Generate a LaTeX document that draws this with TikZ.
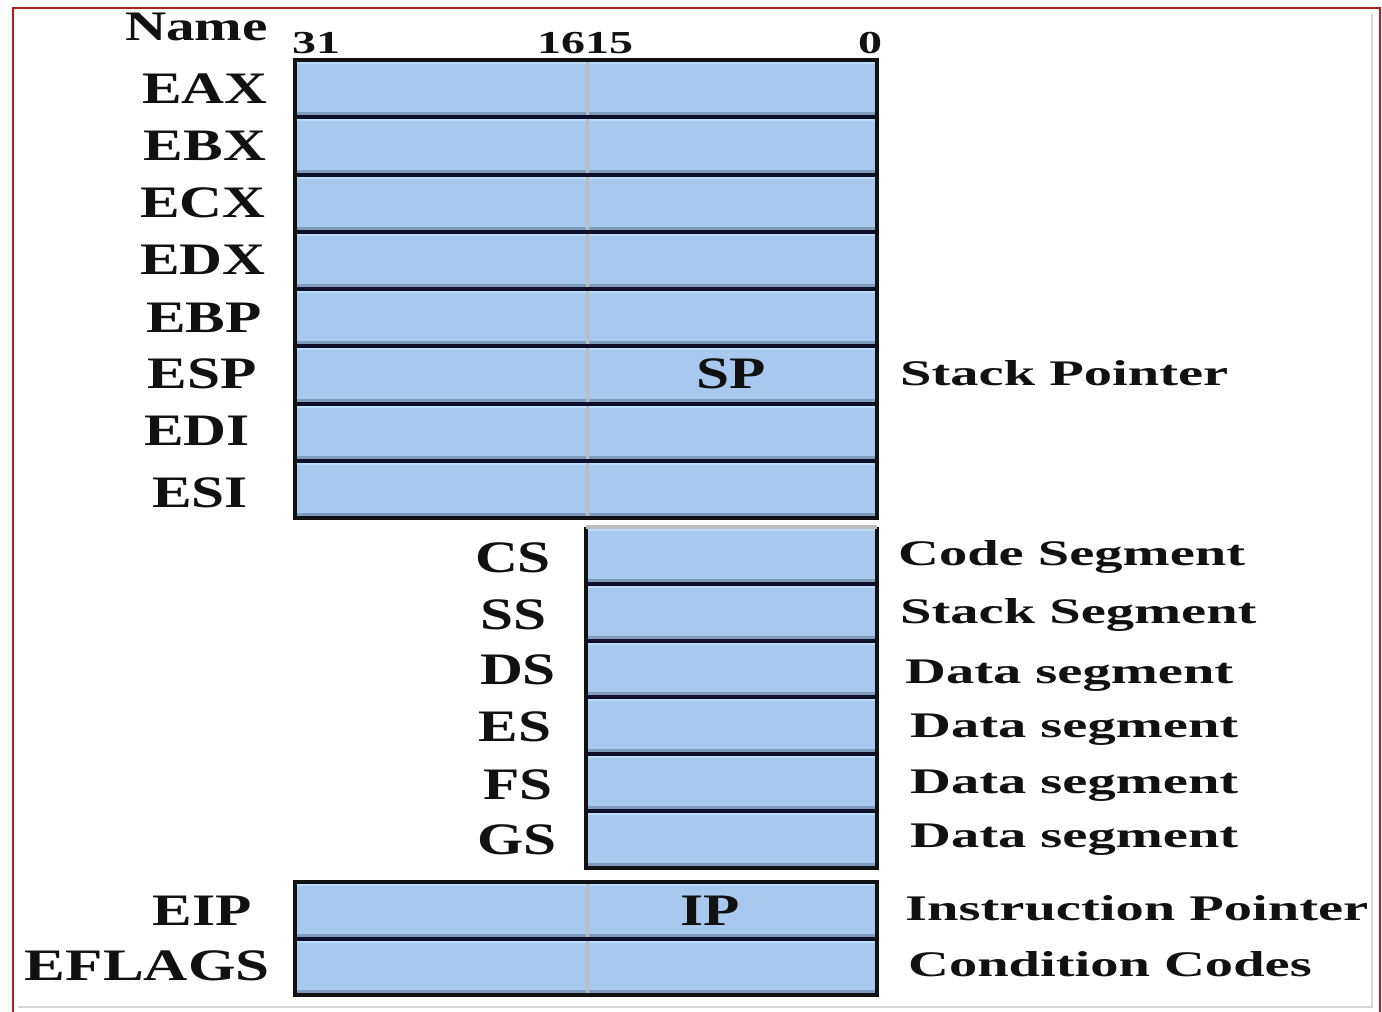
\documentclass[tikz,border=0pt]{standalone}
\usepackage{fontspec}
\setmainfont{Liberation Serif}
\usepackage{graphicx}
\definecolor{regblue}{HTML}{A7C9EF}
\definecolor{toplight}{HTML}{BBDBFB}
\definecolor{botdark}{HTML}{7F9CBD}
\definecolor{framered}{HTML}{B0201C}
\definecolor{framegray}{HTML}{D6D6D6}
\definecolor{divgray}{HTML}{BDBDBD}
\definecolor{ink}{HTML}{111111}
\newcommand\xstretch[2]{\scalebox{#1}[1]{#2}}
\begin{document}
\begin{tikzpicture}[x=1pt,y=-1pt,
  regrow/.style={rectangle, fill=regblue, inner sep=0pt, outer sep=0pt,
    path picture={
      \fill[toplight] (path picture bounding box.north west) rectangle ([yshift=-4pt]path picture bounding box.north east);
      \fill[botdark] ([yshift=5pt]path picture bounding box.south west) rectangle (path picture bounding box.south east);
    }},
  mainrow/.style={regrow, minimum width=582pt, minimum height=57.25pt},
  segrow/.style={regrow, minimum width=291pt, minimum height=56.83pt},
  iprow/.style={regrow, minimum width=582pt, minimum height=56.5pt},
  sep/.style={line width=4pt, draw=ink!90!blue},
  outline/.style={line width=4.5pt, draw=ink},
  div/.style={line width=3pt, draw=divgray},
  reglbl/.style={text=ink, inner sep=0pt, font=\fontsize{45}{45}\selectfont\bfseries},
  desclbl/.style={text=ink, inner sep=0pt, anchor=base west, font=\fontsize{36}{36}\selectfont\bfseries},
  numlbl/.style={text=ink, inner sep=0pt, font=\fontsize{32}{32}\selectfont\bfseries}
]
\useasboundingbox (0,0) rectangle (1382,1012);
\fill[white] (0,0) rectangle (1382,1012);
% frame
\draw[framegray, line width=1.5pt] (18,1007) -- (1372,1007) -- (1372,14);
\draw[framered, line width=2pt] (13,1014) -- (13,8) -- (1380,8) -- (1380,1014);

% main general-purpose registers
\foreach \n [count=\i from 0] in {eax,ebx,ecx,edx,ebp,esp,edi,esi}{
  \node[mainrow] (r\n) at (586,{60+57.25*\i+28.625}) {};
}
\draw[div] (587,60) -- (587,518);
\foreach \i in {1,...,7}{ \draw[sep] (295,{60+57.25*\i}) -- (877,{60+57.25*\i}); }
\draw[outline] (295,60) rectangle (877,518);

% segment registers
\foreach \n [count=\i from 0] in {cs,ss,ds,es,fs,gs}{
  \node[segrow] (r\n) at (731.5,{527+56.83*\i+28.415}) {};
}
\foreach \i in {1,...,5}{ \draw[sep] (586,{527+56.83*\i}) -- (877,{527+56.83*\i}); }
\draw[outline] (586,527) -- (586,868) -- (877,868) -- (877,527);
\draw[line width=4pt, draw=divgray] (586,527) -- (877,527);

% EIP / EFLAGS
\node[iprow] (reip) at (586,{882+28.25}) {};
\node[iprow] (reflags) at (586,{938.5+28.25}) {};
\draw[div] (587,882) -- (587,995);
\draw[sep] (295,938.5) -- (877,938.5);
\draw[outline] (295,882) rectangle (877,995);

% header
\node[reglbl, anchor=base east] (hname) at (268,40) {\xstretch{1.36}{\fontsize{42}{42}\selectfont Name}};
\node[numlbl, anchor=base west] (h31) at (292,53) {\xstretch{1.5}{31}};
\node[numlbl, anchor=base] (h1615) at (585,53) {\xstretch{1.5}{1615}};
\node[numlbl, anchor=base] (h0) at (870,53) {\xstretch{1.5}{0}};

% left labels
\node[reglbl, anchor=base] (leax) at (205,103) {\xstretch{1.32}{EAX}};
\node[reglbl, anchor=base] (lebx) at (205,160) {\xstretch{1.32}{EBX}};
\node[reglbl, anchor=base] (lecx) at (203,217) {\xstretch{1.32}{ECX}};
\node[reglbl, anchor=base] (ledx) at (203,274) {\xstretch{1.32}{EDX}};
\node[reglbl, anchor=base] (lebp) at (204,332) {\xstretch{1.32}{EBP}};
\node[reglbl, anchor=base] (lesp) at (202,388) {\xstretch{1.32}{ESP}};
\node[reglbl, anchor=base] (ledi) at (197,445) {\xstretch{1.32}{EDI}};
\node[reglbl, anchor=base] (lesi) at (200,507) {\xstretch{1.32}{ESI}};
\node[reglbl, anchor=base] (lcs) at (513,572) {\xstretch{1.32}{CS}};
\node[reglbl, anchor=base] (lss) at (514,629) {\xstretch{1.32}{SS}};
\node[reglbl, anchor=base] (lds) at (518,684) {\xstretch{1.32}{DS}};
\node[reglbl, anchor=base] (les) at (515,741) {\xstretch{1.32}{ES}};
\node[reglbl, anchor=base] (lfs) at (518,799) {\xstretch{1.32}{FS}};
\node[reglbl, anchor=base] (lgs) at (517,854) {\xstretch{1.32}{GS}};
\node[reglbl, anchor=base] (leip) at (202,925) {\xstretch{1.32}{EIP}};
\node[reglbl, anchor=base east] (leflags) at (270,980) {\xstretch{1.36}{EFLAGS}};

% inner labels
\node[reglbl, anchor=base] (lsp) at (731,388) {\xstretch{1.32}{SP}};
\node[reglbl, anchor=base] (lip) at (710,925) {\xstretch{1.32}{IP}};

% descriptions
\node[desclbl] (dsp) at (900,385) {\xstretch{1.57}{Stack Pointer}};
\node[desclbl] (dcs) at (898,565) {\xstretch{1.57}{Code Segment}};
\node[desclbl] (dss) at (900,623) {\xstretch{1.57}{Stack Segment}};
\node[desclbl] (dds) at (905,683) {\xstretch{1.57}{Data segment}};
\node[desclbl] (des) at (910,737) {\xstretch{1.57}{Data segment}};
\node[desclbl] (dfs) at (910,793) {\xstretch{1.57}{Data segment}};
\node[desclbl] (dgs) at (910,847) {\xstretch{1.57}{Data segment}};
\node[desclbl] (dip) at (905,920) {\xstretch{1.57}{Instruction Pointer}};
\node[desclbl] (dfl) at (908,976) {\xstretch{1.57}{Condition Codes}};
\end{tikzpicture}
\end{document}
